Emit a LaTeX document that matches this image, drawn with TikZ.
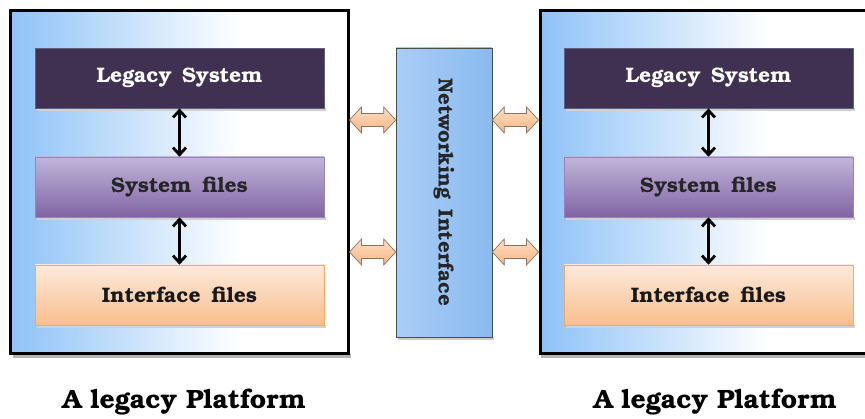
\documentclass[tikz,border=0pt]{standalone}
\usepackage{fontspec}
\setmainfont{TeX Gyre Bonum}
\usetikzlibrary{arrows.meta,calc}

\definecolor{pfblue}{RGB}{142,194,247}
\definecolor{legacyfill}{RGB}{64,49,82}
\definecolor{legacyline}{RGB}{90,100,130}
\definecolor{systop}{RGB}{193,181,219}
\definecolor{sysbot}{RGB}{128,100,162}
\definecolor{ifctop}{RGB}{253,234,218}
\definecolor{ifcbot}{RGB}{250,190,142}
\definecolor{ifcline}{RGB}{240,170,110}
\definecolor{netleft}{RGB}{170,205,245}
\definecolor{netright}{RGB}{138,186,240}
\definecolor{fattop}{RGB}{253,222,196}
\definecolor{fatbot}{RGB}{247,182,132}
\definecolor{fatline}{RGB}{140,115,100}

% platform background: blue on the left fading to white
\pgfdeclarehorizontalshading{platformshade}{100bp}{%
  color(0bp)=(pfblue); color(25bp)=(pfblue); color(59bp)=(white); color(100bp)=(white)}

\tikzset{
  platform/.style={draw=black, line width=3pt, shading=platformshade, minimum width=338pt, minimum height=343pt, inner sep=0pt},
  layerbox/.style={minimum width=289pt, minimum height=60pt, inner sep=0pt, font=\bfseries\fontsize{21}{23}\selectfont},
  legacybox/.style={layerbox, fill=legacyfill, draw=legacyline, line width=0.8pt, text=white},
  sysbox/.style={layerbox, top color=systop, bottom color=sysbot, draw=sysbot!80, line width=0.6pt, text=black!85},
  ifcbox/.style={layerbox, top color=ifctop, bottom color=ifcbot, draw=ifcline, line width=0.6pt, text=black!90},
  netbox/.style={draw=black!70, line width=0.6pt, left color=netleft, middle color=white, right color=netright, minimum width=96pt, minimum height=289pt, inner sep=0pt},
  link/.style={line width=2.8pt, {Straight Barb[length=7pt,width=13pt]}-{Straight Barb[length=7pt,width=13pt]}},
  fatarrow/.style={draw=fatline, line width=0.7pt, top color=fattop, bottom color=fatbot},
  shadowstrip/.style={fill=black!30},
  caption/.style={font=\bfseries\fontsize{26.5}{28}\selectfont, anchor=base},
}

% wide hollow double arrow between two points on one horizontal line
\newcommand\wideArrow[2]{%
  \path[fatarrow] (#1) -- ++(12,-13) -- ++(0,6.5) -- ($(#2)+(-12,-6.5)$) -- ++(0,-6.5) -- (#2)
    -- ++(-12,13) -- ++(0,-6.5) -- ($(#1)+(12,6.5)$) -- ++(0,6.5) -- cycle;}

\begin{document}
\begin{tikzpicture}[x=1pt,y=-1pt]
\useasboundingbox (0,0) rectangle (865,419);
\fill[white] (0,0) rectangle (865,419);

% drop shadows of the two platforms
\fill[shadowstrip] (13,354) rectangle (351,358);
\fill[shadowstrip] (541,354) rectangle (880,358);

% platforms
\node[platform] (pl1) at (179,182.5) {};
\node[platform] (pl2) at (709,182.5) {};

% layers, left platform
\fill[black!18] (37,108) rectangle (326,111);
\fill[black!18] (37,217) rectangle (326,220);
\fill[black!18] (37,325) rectangle (326,328);
\node[legacybox] (ls1) at (179.5,78) {Legacy\, System};
\node[sysbox] (sf1) at (179.5,187) {System\, files};
\node[ifcbox] (if1) at (179.5,295) {Interface\, files};

% layers, right platform
\fill[black!18] (566,108) rectangle (855,111);
\fill[black!18] (566,217) rectangle (855,220);
\fill[black!18] (566,325) rectangle (855,328);
\node[legacybox] (ls2) at (708.5,78) {Legacy\, System};
\node[sysbox] (sf2) at (708.5,187) {System\, files};
\node[ifcbox] (if2) at (708.5,295) {Interface\, files};

% links between layers
\draw[link] (ls1.south) -- (sf1.north);
\draw[link] (sf1.south) -- (if1.north);
\draw[link] (ls2.south) -- (sf2.north);
\draw[link] (sf2.south) -- (if2.north);

% networking interface
\fill[black!20] (398,337) rectangle (494,340);
\node[netbox] (net) at (444,192.5) {};
\node[rotate=-90, font=\bfseries\fontsize{20.5}{22}\selectfont, text=black!85] (nettext) at (net.center) {Networking\, Interface};

% exchange arrows
\coordinate (a1) at (pl1.east |- 0,120);
\coordinate (b1) at (net.west |- 0,120);
\coordinate (a2) at (pl1.east |- 0,252);
\coordinate (b2) at (net.west |- 0,252);
\coordinate (c1) at (net.east |- 0,120);
\coordinate (d1) at (pl2.west |- 0,120);
\coordinate (c2) at (net.east |- 0,252);
\coordinate (d2) at (pl2.west |- 0,252);
\wideArrow{a1}{b1}
\wideArrow{a2}{b2}
\wideArrow{c1}{d1}
\wideArrow{c2}{d2}

% captions
\node[caption] (cap1) at (184,409) {A legacy Platform};
\node[caption] (cap2) at (715,409) {A legacy Platform};
\end{tikzpicture}
\end{document}
